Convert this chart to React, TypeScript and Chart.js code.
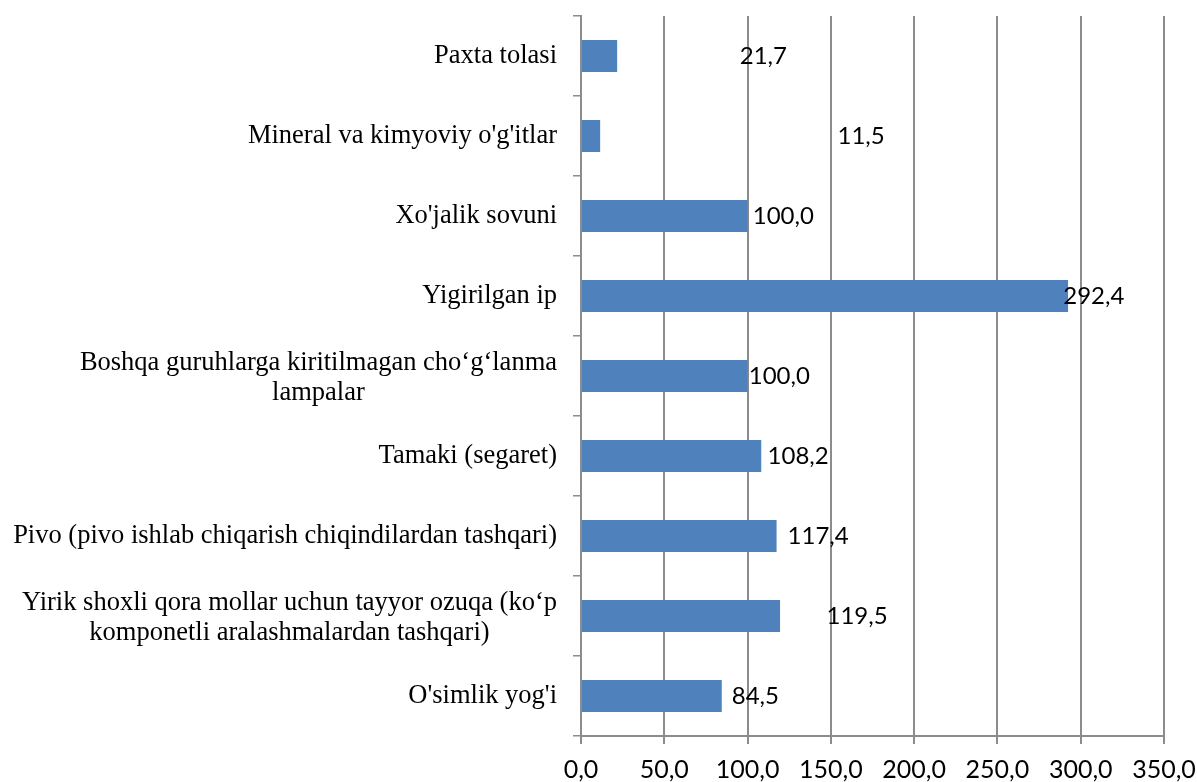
import React, { useEffect, useRef } from "react";
import { Chart, registerables } from "chart.js";

Chart.register(...registerables);

const categories: (string | string[])[] = [
  "Paxta tolasi",
  "Mineral va kimyoviy o'g'itlar",
  "Xo'jalik sovuni",
  "Yigirilgan ip",
  ["Boshqa guruhlarga kiritilmagan cho‘g‘lanma", "lampalar"],
  "Tamaki (segaret)",
  "Pivo (pivo ishlab chiqarish chiqindilardan tashqari)",
  ["Yirik shoxli qora mollar uchun tayyor ozuqa (ko‘p", "komponetli aralashmalardan tashqari)"],
  "O'simlik yog'i",
];

const values: number[] = [21.7, 11.5, 100.0, 292.4, 100.0, 108.2, 117.4, 119.5, 84.5];

// axis value where each data label starts (labels were hand-placed in the original)
const labelX: number[] = [95.3, 154, 103.1, 289.5, 100.7, 112, 124, 147.4, 90.5];

const xTicks: number[] = [0, 50, 100, 150, 200, 250, 300, 350];

const fmt = (v: number) => v.toFixed(1).replace(".", ",");

const GRID = "#8c8c8c";

const categoryLabelsPlugin = {
  id: "categoryLabels",
  afterDraw(chart: any) {
    const ys = chart.scales.y;
    const ctx = chart.ctx;
    ctx.save();
    ctx.font = '26.5px "Liberation Serif", "Times New Roman", serif';
    ctx.fillStyle = "#000";
    ctx.textBaseline = "middle";
    ctx.textAlign = "center";
    const lineH = 30.5;
    categories.forEach((c, i) => {
      const lines = Array.isArray(c) ? c : [c];
      const maxW = Math.max(...lines.map((l) => ctx.measureText(l).width));
      const right = ys.right - 24;
      const cx = right - maxW / 2;
      const cy = ys.getPixelForValue(i) + (lines.length > 1 ? 2 : 0);
      lines.forEach((l, j) => {
        ctx.fillText(l, cx, cy + (j - (lines.length - 1) / 2) * lineH);
      });
    });
    ctx.restore();
  },
};

const dataLabelsPlugin = {
  id: "dataLabels",
  afterDatasetsDraw(chart: any) {
    const xs = chart.scales.x;
    const meta = chart.getDatasetMeta(0);
    const ctx = chart.ctx;
    ctx.save();
    ctx.font = '24px Lato, "Open Sans", sans-serif';
    ctx.fillStyle = "#000";
    ctx.textBaseline = "middle";
    ctx.textAlign = "left";
    values.forEach((v, i) => {
      const bar = meta.data[i];
      ctx.fillText(fmt(v), xs.getPixelForValue(labelX[i]), bar.y);
    });
    ctx.restore();
  },
};

export default function App() {
  const ref = useRef<HTMLCanvasElement | null>(null);

  useEffect(() => {
    document.body.style.margin = "0";
    const canvas = ref.current;
    if (!canvas) return;
    const chart = new Chart(canvas, {
      type: "bar",
      data: {
        labels: categories as any,
        datasets: [
          {
            data: values,
            backgroundColor: "#4F81BD",
            borderWidth: 0,
            barPercentage: 0.4,
            categoryPercentage: 1,
          },
        ],
      },
      options: {
        indexAxis: "y",
        animation: false,
        responsive: false,
        events: [],
        layout: { padding: { top: 16, right: 33, left: 0, bottom: 0 } },
        plugins: {
          legend: { display: false },
          tooltip: { enabled: false },
          title: { display: false },
        },
        scales: {
          x: {
            type: "linear",
            min: 0,
            max: 350,
            afterBuildTicks(scale: any) {
              scale.ticks = xTicks.map((v) => ({ value: v }));
            },
            afterFit(scale: any) {
              scale.height = 46;
              scale.paddingLeft = 0;
              scale.paddingRight = 0;
            },
            ticks: {
              callback: (v: any) => fmt(Number(v)),
              font: { family: 'Lato, "Open Sans", sans-serif', size: 25 },
              color: "#000",
              padding: 11,
              maxRotation: 0,
              autoSkip: false,
            },
            grid: {
              color: GRID,
              lineWidth: 2,
              drawTicks: true,
              tickLength: 8,
            },
            border: { display: true, color: GRID, width: 2 },
          },
          y: {
            type: "category",
            afterFit(scale: any) {
              scale.width = 581;
            },
            ticks: { display: false },
            grid: {
              drawOnChartArea: false,
              drawTicks: true,
              tickLength: 8,
              color: GRID,
              lineWidth: 1.5,
              offset: true,
            },
            border: { display: true, color: GRID, width: 2 },
          },
        },
      },
      plugins: [categoryLabelsPlugin, dataLabelsPlugin],
    } as any);
    return () => chart.destroy();
  }, []);

  return (
    <div style={{ width: 1197, height: 782, background: "#fff" }}>
      <canvas ref={ref} width={1197} height={782} style={{ display: "block" }} />
    </div>
  );
}
